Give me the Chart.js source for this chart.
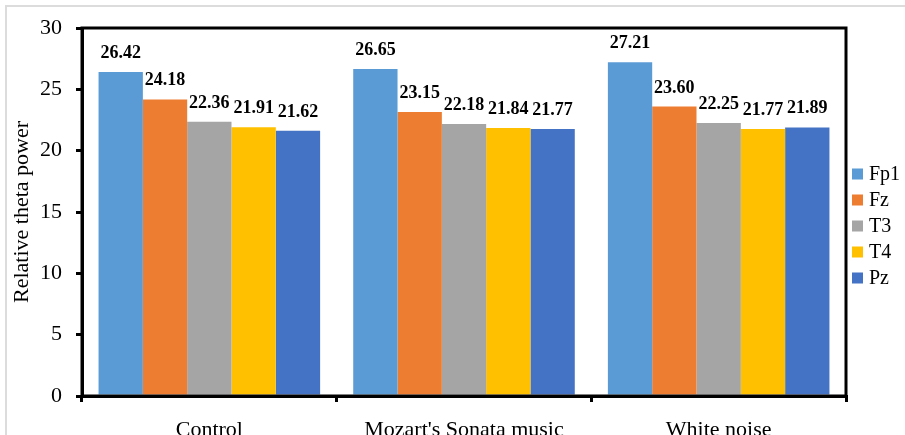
<!DOCTYPE html>
<html lang="en">
<head>
<meta charset="UTF-8">
<title>Relative theta power</title>
<script src="https://cdn.jsdelivr.net/npm/chart.js"></script>
<style>
  html, body { margin: 0; padding: 0; background: #fff; }
  #wrap { position: relative; width: 905px; height: 435px; overflow: hidden; }
</style>
</head>
<body>
<div id="wrap"><canvas id="thetaChart" width="905" height="435"></canvas></div>
<script>
const conditions = ['Control', "Mozart's Sonata music", 'White noise'];
const channels = ['Fp1', 'Fz', 'T3', 'T4', 'Pz'];
const fp1 = [26.42, 26.65, 27.21];
const fz = [24.18, 23.15, 23.60];
const t3 = [22.36, 22.18, 22.25];
const t4 = [21.91, 21.84, 21.77];
const pz = [21.62, 21.77, 21.89];
const colors = ['#5B9BD5', '#ED7D31', '#A5A5A5', '#FFC000', '#4472C4'];

const serif = '"Liberation Serif", "Times New Roman", serif';

// light frame around the picture, box around the plot, value labels, legend
const decorations = {
  id: 'decorations',
  beforeDraw(chart) {
    const ctx = chart.ctx;
    ctx.save();
    ctx.fillStyle = '#ffffff';
    ctx.fillRect(0, 0, chart.width, chart.height);
    ctx.strokeStyle = '#dcdcdc';
    ctx.lineWidth = 2;
    ctx.beginPath();
    ctx.moveTo(6, chart.height);
    ctx.lineTo(6, 6);
    ctx.lineTo(chart.width, 6);
    ctx.stroke();
    ctx.restore();
  },
  afterDatasetsDraw(chart) {
    const ctx = chart.ctx;
    const a = chart.chartArea;
    ctx.save();
    ctx.strokeStyle = '#000';
    ctx.lineWidth = 3;
    ctx.strokeRect(a.left, a.top, a.right - a.left, a.bottom - a.top);

    ctx.fillStyle = '#000';
    ctx.font = 'bold 18px ' + serif;
    ctx.textAlign = 'center';
    ctx.textBaseline = 'alphabetic';
    chart.data.datasets.forEach((ds, i) => {
      chart.getDatasetMeta(i).data.forEach((bar, j) => {
        ctx.fillText(ds.data[j].toFixed(2), bar.x, bar.y - 14);
      });
    });

    // legend
    ctx.font = '20px ' + serif;
    ctx.textAlign = 'left';
    ctx.textBaseline = 'middle';
    channels.forEach((name, i) => {
      const y = 174 + i * 26;
      ctx.fillStyle = colors[i];
      ctx.fillRect(852, y - 5.5, 11, 11);
      ctx.fillStyle = '#000';
      ctx.fillText(name, 869, y + 1);
    });
    ctx.restore();
  }
};

const series = [fp1, fz, t3, t4, pz];

new Chart(document.getElementById('thetaChart'), {
  type: 'bar',
  data: {
    labels: conditions,
    datasets: channels.map((name, i) => ({
      label: name,
      data: series[i],
      backgroundColor: colors[i],
      borderWidth: 0
    }))
  },
  options: {
    responsive: false,
    animation: false,
    devicePixelRatio: 1,
    layout: { padding: { top: 28, right: 59, bottom: 0, left: 0 } },
    datasets: { bar: { categoryPercentage: 0.87, barPercentage: 1.0 } },
    plugins: {
      legend: { display: false },
      tooltip: { enabled: false }
    },
    scales: {
      x: {
        offset: true,
        grid: {
          offset: true,
          drawOnChartArea: false,
          drawTicks: true,
          tickLength: 6,
          color: '#000',
          lineWidth: 3
        },
        border: { display: true, color: '#000', width: 3 },
        ticks: {
          color: '#000',
          font: { family: serif, size: 22 },
          padding: 15,
          maxRotation: 0
        },
        afterFit(scale) { scale.height = 39; }
      },
      y: {
        min: 0,
        max: 30,
        ticks: {
          stepSize: 5,
          color: '#000',
          font: { family: serif, size: 22 },
          padding: 14
        },
        grid: {
          drawOnChartArea: false,
          drawTicks: true,
          tickLength: 6,
          color: '#000',
          lineWidth: 3
        },
        border: { display: true, color: '#000', width: 3 },
        title: {
          display: true,
          text: 'Relative theta power',
          color: '#000',
          font: { family: serif, size: 22 },
          padding: { top: 9, bottom: 0 }
        },
        afterFit(scale) { scale.width = 82; }
      }
    }
  },
  plugins: [decorations]
});
</script>
</body>
</html>
